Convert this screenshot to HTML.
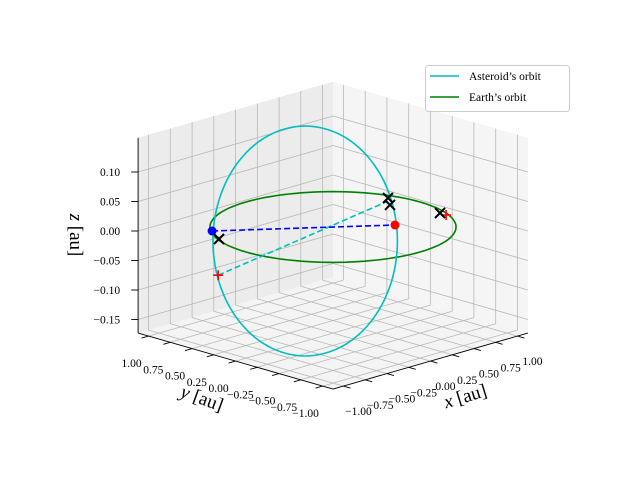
<!DOCTYPE html>
<html><head><meta charset="utf-8"><style>
body{margin:0;background:#fff}
svg{display:block;font-family:"Liberation Serif",serif}
</style></head><body>
<svg id="c" width="640" height="480" viewBox="0 0 640 480"></svg>
<script>
const xTicks=[-1,-0.75,-0.5,-0.25,0,0.25,0.5,0.75,1];
const yTicks=[-1,-0.75,-0.5,-0.25,0,0.25,0.5,0.75,1];
const zTicks=[-0.15,-0.10,-0.05,0,0.05,0.10];
const earthOrbit=[0.08,0.08,0,1.0];            // cx, cy, cz, radius
const asteroidCenter=[-0.36,-0.04,0];
const asteroidU=[-0.53,0.53,0];
const asteroidV=[0.6,0.6,0.144];
const blueDot=[-0.695,0.695,0];
const redDot=[0.476,-0.237,0];
const blackX=[[-0.815,0.495,0],[0.976,0.344,0],[0.848,0.193,0],[0.975,-0.255,0]];
const redPlus=[[0.97,-0.33,0],[-0.86,0.46,-0.058]];
const cyanDash=[[-0.86,0.46,-0.058],[0.885,0.275,0]];

const L=1.12,ZLO=-0.173,ZHI=0.158;
function P(x,y,z){return [333+87*(x-y),231-25*(x+y)-590*z];}
const NS='http://www.w3.org/2000/svg';
const svg=document.getElementById('c');
function el(t,a,parent){const e=document.createElementNS(NS,t);for(const k in a)e.setAttribute(k,a[k]);(parent||svg).appendChild(e);return e;}
function pts(arr){return arr.map(p=>P(...p).map(v=>v.toFixed(1)).join(',')).join(' ');}
function fmt(v){return (v<0?'\u2212':'')+Math.abs(v).toFixed(2);}

// panes
let e;
e=el('polygon',{points:pts([[-L,-L,ZLO],[L,-L,ZLO],[L,L,ZLO],[-L,L,ZLO]]),fill:'#f4f4f4'});

e=el('polygon',{points:pts([[-L,L,ZLO],[L,L,ZLO],[L,L,ZHI],[-L,L,ZHI]]),fill:'#ececec'});

e=el('polygon',{points:pts([[L,-L,ZLO],[L,L,ZLO],[L,L,ZHI],[L,-L,ZHI]]),fill:'#f5f5f5'});


const grid=el('g',{stroke:'#b8b8b8','stroke-width':0.8,fill:'none'});

function line(a,b,attrs,parent){return el('polyline',Object.assign({points:pts([a,b])},attrs||{}),parent);}
xTicks.forEach(x=>{line([x,-L,ZLO],[x,L,ZLO],{},grid);line([x,L,ZLO],[x,L,ZHI],{},grid);});
yTicks.forEach(y=>{line([-L,y,ZLO],[L,y,ZLO],{},grid);line([L,y,ZLO],[L,y,ZHI],{},grid);});
zTicks.forEach(z=>{line([-L,L,z],[L,L,z],{},grid);line([L,L,z],[L,-L,z],{},grid);});

// axes
const ax=el('g',{stroke:'#000','stroke-width':0.9,fill:'none'});

line([-L,-L,ZLO],[L,-L,ZLO],{},ax);
line([-L,-L,ZLO],[-L,L,ZLO],{},ax);
line([-L,L,ZLO],[-L,L,ZHI],{},ax);
const tl=el('g',{'font-size':'11.5',fill:'#000'});

xTicks.forEach(x=>{line([x,-L,ZLO],[x,-L-0.08,ZLO],{},ax);const p=P(x,-L,ZLO);
 const t=el('text',{x:p[0]+15,y:p[1]+29,'text-anchor':'middle'},tl);t.textContent=fmt(x);
 });
yTicks.forEach(y=>{line([-L,y,ZLO],[-L-0.08,y,ZLO],{},ax);const p=P(-L,y,ZLO);
 const t=el('text',{x:p[0]-17,y:p[1]+31,'text-anchor':'middle'},tl);t.textContent=fmt(y);
 });
zTicks.forEach(z=>{const p=P(-L,L,z);line([-L,L,z],[-L-0.04,L+0.04,z],{},ax);
 const t=el('text',{x:p[0]-18,y:p[1]+4,'text-anchor':'end'},tl);t.textContent=fmt(z);
 });

// axis titles
function title(txt,x,y,rot,name){const t=el('text',{x:x,y:y,'font-size':'19','text-anchor':'middle',transform:`rotate(${rot} ${x} ${y})`});t.innerHTML=txt;
 }
title('<tspan font-style="italic">x</tspan> [au]',467,402,-17,'x-axis-title');
title('<tspan font-style="italic">y</tspan> [au]',200,404,20,'y-axis-title');
title('<tspan font-style="italic">z</tspan> [au]',70,235,90,'z-axis-title');

// earth orbit
const ep=[];for(let i=0;i<=120;i++){const t=i/120*2*Math.PI;ep.push([earthOrbit[0]+earthOrbit[3]*Math.cos(t),earthOrbit[1]+earthOrbit[3]*Math.sin(t),earthOrbit[2]]);}
e=el('polyline',{points:pts(ep),fill:'none',stroke:'#008000','stroke-width':1.6});

// asteroid orbit
const ap=[];for(let i=0;i<=120;i++){const t=i/120*2*Math.PI,c=Math.cos(t),s=Math.sin(t);
 ap.push([0,1,2].map(k=>asteroidCenter[k]+asteroidU[k]*c+asteroidV[k]*s));}
e=el('polyline',{points:pts(ap),fill:'none',stroke:'#00bfbf','stroke-width':1.6});


e=el('polyline',{points:pts(cyanDash),fill:'none',stroke:'#00bfbf','stroke-width':1.6,'stroke-dasharray':'6,3'});

e=el('polyline',{points:pts([blueDot,redDot]),fill:'none',stroke:'#0000ff','stroke-width':1.6,'stroke-dasharray':'6,3'});


let p=P(...blueDot);
e=el('circle',{cx:p[0],cy:p[1],r:4.5,fill:'#0000ff'});

p=P(...redDot);
e=el('circle',{cx:p[0],cy:p[1],r:4.5,fill:'#ff0000'});

redPlus.forEach(q=>{const p=P(...q);const g=el('path',{d:`M${p[0]-5},${p[1]}h10M${p[0]},${p[1]-5}v10`,stroke:'#ff0000','stroke-width':1.6});
 });
blackX.forEach(q=>{const p=P(...q);const g=el('path',{d:`M${p[0]-5},${p[1]-5}l10,10M${p[0]-5},${p[1]+5}l10,-10`,stroke:'#000','stroke-width':2});
 });

// legend
const lg=el('g',{});

el('rect',{x:425.5,y:65.5,width:144,height:46,rx:3,fill:'#fff','fill-opacity':0.85,stroke:'#cccccc'},lg);
[['Asteroid\u2019s orbit','#00bfbf',76],['Earth\u2019s orbit','#008000',97]].forEach(([lab,col,y],i)=>{
 const g=el('g',{},lg);
 el('line',{x1:430,y1:y,x2:459,y2:y,stroke:col,'stroke-width':1.6},g);
 const t=el('text',{x:469,y:y+4,'font-size':'11.5'},g);t.textContent=lab;});
</script>
</body></html>
